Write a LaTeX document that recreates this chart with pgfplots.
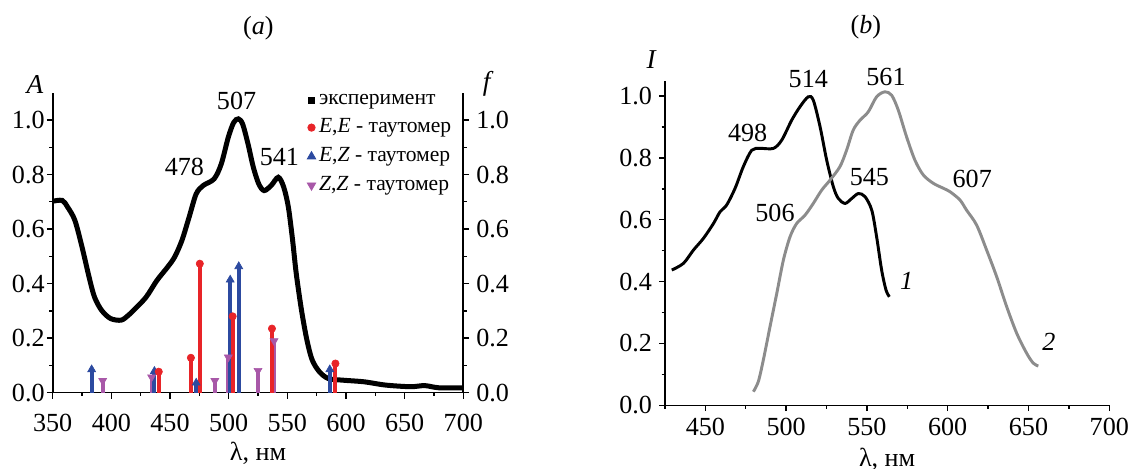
\documentclass[border=0pt]{standalone}
\usepackage{fontspec}
\setmainfont{Liberation Serif}
\usepackage{pgfplots}
\pgfplotsset{compat=1.18}

\definecolor{ee}{RGB}{232,36,40}
\definecolor{ez}{RGB}{44,74,160}
\definecolor{zz}{RGB}{168,88,168}
\definecolor{gr}{RGB}{140,140,140}

\newcommand\fnt{\fontsize{11.5}{13.8}\selectfont}

\pgfplotsset{
  spec/.style={
    scale only axis,
    font=\fnt,
    axis x line*=bottom, axis y line*=left,
    tick align=outside,
    major tick length=0.09cm, minor tick length=0.05cm,
    every tick/.style={black, line width=0.6pt},
    axis line style={line width=0.7pt},
    /pgf/number format/assume math mode=true,
    y tick label style={/pgf/number format/fixed, /pgf/number format/fixed zerofill, /pgf/number format/precision=1},
    x tick label style={/pgf/number format/1000 sep={}},
    ytick={0,0.2,0.4,0.6,0.8,1.0},
    minor ytick={0.1,0.3,0.5,0.7,0.9},
    clip=false,
  },
  mleg/.style={legend image code/.code={\draw plot coordinates {(0.06cm,0cm)};}},
}

\begin{document}
\begin{tikzpicture}
% (a) absorption + calculated oscillator strengths
\begin{axis}[spec, at={(0,0)}, anchor=south west,
  width=6.356cm, height=4.644cm,
  xmin=350, xmax=700, ymin=0, ymax=1.1,
  xtick={350,400,450,500,550,600,650,700},
  minor xtick={375,425,475,525,575,625,675},
  y tick label style={inner xsep=0.8pt},
  x tick label style={yshift=-3.5pt},
  xlabel={λ, нм}, xlabel style={yshift=2.5pt},
  legend style={at={(rel axis cs:0.98,1.005)}, anchor=north east, draw=none, fill=none,
    legend cell align=left, row sep=3pt, inner sep=0pt,
    font=\fontsize{9.5}{11.4}\selectfont,
    nodes={inner xsep=1.5pt, inner ysep=1pt}},
]
\addlegendimage{only marks, mark=square*, black, mark size=1.3pt, mleg}
\addlegendentry{эксперимент}
\addlegendimage{only marks, mark=*, ee, mark size=1.6pt, mleg}
\addlegendentry{\textit{E},\textit{E} - таутомер}
\addlegendimage{only marks, mark=triangle*, ez, mark size=2.1pt, mleg}
\addlegendentry{\textit{E},\textit{Z} - таутомер}
\addlegendimage{only marks, mark=triangle*, zz, mark size=2.1pt, mark options={rotate=180}, mleg}
\addlegendentry{\textit{Z},\textit{Z} - таутомер}

\addplot[black, line width=2.2pt, smooth, forget plot] coordinates {
 (350,0.702) (358.2,0.705) (362.8,0.68) (368.9,0.632) (375,0.534) (381,0.424)
 (385.6,0.351) (391.7,0.302) (399.3,0.272) (408.4,0.266) (414.5,0.284) (420.6,0.309)
 (429.7,0.351) (438.9,0.412) (448,0.461) (454,0.498) (460.2,0.559) (466.3,0.644)
 (472.3,0.729) (478.4,0.760) (487.6,0.784) (493.7,0.839) (499.7,0.937) (504.3,0.991)
 (508.3,1.004) (511.9,0.985) (516.5,0.912) (521,0.827) (525.6,0.766) (530.2,0.741)
 (536.3,0.760) (542.3,0.790) (546.9,0.754) (550.9,0.680) (554.5,0.559) (557.6,0.437)
 (562.1,0.302) (566.7,0.193) (571.2,0.120) (577.3,0.077) (584.9,0.052) (597.1,0.046)
 (615.4,0.040) (633.7,0.028) (654.9,0.022) (667.1,0.026) (679.3,0.018) (700,0.018)
};

% Z,Z
\addplot[ycomb, zz, line width=1.8pt, mark=triangle*, mark size=2pt,
  mark options={rotate=180, line width=0.3pt}, forget plot] coordinates {
 (392.6,0.044) (434.3,0.057) (488.2,0.044) (499.7,0.13) (525,0.081) (538.7,0.19)
};
% E,Z
\addplot[ycomb, ez, line width=1.8pt, mark=triangle*, mark size=2pt,
  mark options={line width=0.3pt}, forget plot] coordinates {
 (383.2,0.085) (436.7,0.079) (472.3,0.036) (501.3,0.414) (508.6,0.463) (586.2,0.085)
};
% E,E
\addplot[ycomb, ee, line width=1.8pt, mark=*, mark size=1.6pt,
  mark options={line width=0.3pt}, forget plot] coordinates {
 (440.4,0.077) (467.8,0.128) (475.4,0.473) (503.4,0.28) (536.9,0.235) (591,0.107)
};

\node at (axis cs:506.7,1.071) {507};
\node at (axis cs:462.3,0.829) {478};
\node at (axis cs:543.3,0.866) {541};
\node[font=\fontsize{12}{14}\selectfont] at (rel axis cs:-0.043,1.026) {\textit{A}};
\node[font=\fontsize{12}{14}\selectfont] at (rel axis cs:1.061,1.031) {\textit{f}};
\node at (rel axis cs:0.501,1.215) {(\textit{a})};
\end{axis}

% right f axis
\begin{axis}[spec, at={(0,0)}, anchor=south west,
  width=6.356cm, height=4.644cm,
  xmin=350, xmax=700, ymin=0, ymax=1.1,
  axis x line=none, axis y line*=right,
  y tick label style={inner xsep=3pt},
]
\addplot[draw=none] coordinates {(400,0)};
\end{axis}

% (b) luminescence
\begin{axis}[spec, at={(9.478cm,-0.195cm)}, anchor=south west,
  width=6.878cm, height=5.025cm,
  xmin=425, xmax=700, ymin=0, ymax=1.05,
  xtick={450,500,550,600,650,700},
  minor xtick={425,475,525,575,625,675},
  y tick label style={inner xsep=3pt},
  x tick label style={yshift=0.5pt},
  xlabel={λ, нм}, xlabel style={yshift=1.5pt},
]
\addplot[black, line width=1.3pt, smooth] coordinates {
 (429.2,0.4375) (436.4,0.459) (442.6,0.502) (448.8,0.540) (455,0.588) (459.1,0.626)
 (463.2,0.648) (468.4,0.702) (473.5,0.772) (478.7,0.825) (483.9,0.831) (492.1,0.831)
 (497.3,0.858) (503.4,0.922) (508.6,0.966) (513.7,0.998) (516.8,0.987) (521,0.901)
 (525.1,0.793) (529.2,0.707) (532.3,0.669) (536.5,0.653) (540.6,0.669) (544.7,0.685)
 (548.8,0.675) (553,0.631) (556,0.545) (559.1,0.4375) (561.8,0.373) (563.9,0.351)
};
\addplot[gr, line width=1.3pt, smooth] coordinates {
 (479.7,0.044) (482.8,0.077) (485.9,0.147) (490,0.254) (494.2,0.362) (498.3,0.470)
 (502.4,0.545) (506.5,0.588) (511.7,0.615) (516.8,0.653) (522,0.696) (527.1,0.728)
 (533.3,0.772) (537.4,0.825) (541.5,0.890) (545.7,0.922) (550.8,0.949) (556,0.998)
 (561.1,1.014) (565.3,1.003) (569.4,0.955) (574.5,0.869) (579.7,0.793) (584.9,0.745)
 (591.1,0.718) (597.3,0.702) (601.4,0.691) (607.6,0.664) (611.7,0.631) (617.9,0.583)
 (624.1,0.502) (630.3,0.416) (636.5,0.319) (642.7,0.233) (648.9,0.168) (653,0.136)
 (656.1,0.127)
};
\node at (axis cs:513.7,1.054) {514};
\node at (axis cs:561.8,1.062) {561};
\node at (axis cs:476.2,0.881) {498};
\node at (axis cs:551.5,0.739) {545};
\node at (axis cs:615.2,0.731) {607};
\node at (axis cs:493.1,0.623) {506};
\node at (axis cs:574.6,0.403) {\textit{1}};
\node at (axis cs:662.7,0.206) {\textit{2}};
\node[font=\fontsize{12}{14}\selectfont] at (rel axis cs:-0.03,1.064) {\textit{I}};
\node at (rel axis cs:0.452,1.165) {(\textit{b})};
\end{axis}

\pgfresetboundingbox
\path[use as bounding box] (-0.816,-1.181) rectangle (16.677,6.079);
\end{tikzpicture}
\end{document}
